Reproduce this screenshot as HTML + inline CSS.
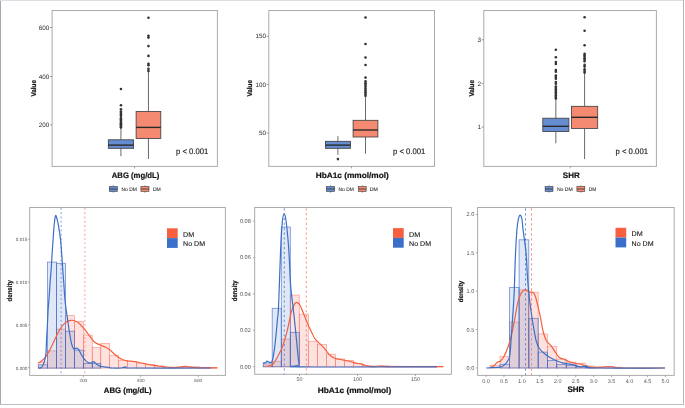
<!DOCTYPE html><html><head><meta charset="utf-8"><style>html,body{margin:0;padding:0;background:#fff;}svg{display:block;will-change:transform;}text{font-family:"Liberation Sans", sans-serif;text-rendering:geometricPrecision;}</style></head><body>
<svg width="685" height="408" viewBox="0 0 685 408">
<rect x="0" y="0" width="685" height="408" fill="#fff"/>
<rect x="52.1" y="10.5" width="165.3" height="155.9" fill="none" stroke="#ababab" stroke-width="1"/>
<line x1="49.9" y1="27.5" x2="52.1" y2="27.5" stroke="#8a8a8a" stroke-width="0.8"/>
<text x="49.3" y="29.7" font-size="6.3" text-anchor="end" font-weight="normal" fill="#2a2a2a">600</text>
<line x1="49.9" y1="76.5" x2="52.1" y2="76.5" stroke="#8a8a8a" stroke-width="0.8"/>
<text x="49.3" y="78.7" font-size="6.3" text-anchor="end" font-weight="normal" fill="#2a2a2a">400</text>
<line x1="49.9" y1="124.8" x2="52.1" y2="124.8" stroke="#8a8a8a" stroke-width="0.8"/>
<text x="49.3" y="127" font-size="6.3" text-anchor="end" font-weight="normal" fill="#2a2a2a">200</text>
<line x1="134.6" y1="166.4" x2="134.6" y2="168.4" stroke="#8a8a8a" stroke-width="0.8"/>
<text x="35.6" y="88.3" font-size="7" text-anchor="middle" font-weight="bold" fill="#111" stroke="#111" stroke-width="0.2" textLength="16.6" lengthAdjust="spacingAndGlyphs" transform="rotate(-90 35.6 88.3)">Value</text>
<line x1="120.95" y1="127.5" x2="120.95" y2="139.8" stroke="#444" stroke-width="0.8"/>
<line x1="120.95" y1="148.3" x2="120.95" y2="156.2" stroke="#444" stroke-width="0.8"/>
<rect x="108.3" y="139.8" width="25.3" height="8.5" fill="#668dd1" stroke="#3a3a3a" stroke-width="0.8"/>
<line x1="108.3" y1="145.1" x2="133.6" y2="145.1" stroke="#2a2a2a" stroke-width="1.4"/>
<circle cx="120.95" cy="89" r="1.3" fill="#333"/>
<circle cx="120.95" cy="105.2" r="1.3" fill="#333"/>
<circle cx="120.95" cy="109.2" r="1.3" fill="#333"/>
<circle cx="120.95" cy="111.5" r="1.3" fill="#333"/>
<circle cx="120.95" cy="112.8" r="1.3" fill="#333"/>
<circle cx="120.95" cy="114.4" r="1.3" fill="#333"/>
<circle cx="120.95" cy="116.1" r="1.3" fill="#333"/>
<circle cx="120.95" cy="118.4" r="1.3" fill="#333"/>
<circle cx="120.95" cy="119.6" r="1.3" fill="#333"/>
<circle cx="120.95" cy="120.8" r="1.3" fill="#333"/>
<circle cx="120.95" cy="122" r="1.3" fill="#333"/>
<circle cx="120.95" cy="123.2" r="1.3" fill="#333"/>
<circle cx="120.95" cy="124.4" r="1.3" fill="#333"/>
<circle cx="120.95" cy="125.6" r="1.3" fill="#333"/>
<circle cx="120.95" cy="126.8" r="1.3" fill="#333"/>
<circle cx="120.95" cy="127.4" r="1.3" fill="#333"/>
<line x1="148.45" y1="70" x2="148.45" y2="111.5" stroke="#444" stroke-width="0.8"/>
<line x1="148.45" y1="138.5" x2="148.45" y2="159" stroke="#444" stroke-width="0.8"/>
<rect x="136.1" y="111.5" width="24.7" height="27" fill="#f48a72" stroke="#3a3a3a" stroke-width="0.8"/>
<line x1="136.1" y1="127.4" x2="160.8" y2="127.4" stroke="#2a2a2a" stroke-width="1.4"/>
<circle cx="148.45" cy="17.7" r="1.3" fill="#333"/>
<circle cx="148.45" cy="35.8" r="1.3" fill="#333"/>
<circle cx="148.45" cy="37.6" r="1.3" fill="#333"/>
<circle cx="148.45" cy="46.1" r="1.3" fill="#333"/>
<circle cx="148.45" cy="55.9" r="1.3" fill="#333"/>
<circle cx="148.45" cy="63.7" r="1.3" fill="#333"/>
<circle cx="148.45" cy="65.2" r="1.3" fill="#333"/>
<circle cx="148.45" cy="68.8" r="1.3" fill="#333"/>
<circle cx="148.45" cy="70.9" r="1.3" fill="#333"/>
<text x="176" y="154.2" font-size="8" text-anchor="start" font-weight="normal" fill="#1a1a1a" stroke="#1a1a1a" stroke-width="0.15" textLength="32.3" lengthAdjust="spacingAndGlyphs">p &lt; 0.001</text>
<text x="111.8" y="178.2" font-size="8" text-anchor="start" font-weight="bold" fill="#111" stroke="#111" stroke-width="0.2" textLength="47.5" lengthAdjust="spacingAndGlyphs">ABG (mg/dL)</text>
<line x1="113.35" y1="185.2" x2="113.35" y2="192.8" stroke="#555" stroke-width="0.6"/>
<rect x="109.3" y="186.4" width="8.1" height="5.2" fill="#668dd1" stroke="#444" stroke-width="0.6"/>
<line x1="109.3" y1="189" x2="117.4" y2="189" stroke="#333" stroke-width="0.8"/>
<text x="121.5" y="191.2" font-size="5.2" text-anchor="start" font-weight="normal" fill="#333" stroke="#333" stroke-width="0.1" textLength="15.3" lengthAdjust="spacingAndGlyphs">No DM</text>
<line x1="144.95" y1="185.2" x2="144.95" y2="192.8" stroke="#555" stroke-width="0.6"/>
<rect x="140.9" y="186.4" width="8.1" height="5.2" fill="#f48a72" stroke="#444" stroke-width="0.6"/>
<line x1="140.9" y1="189" x2="149" y2="189" stroke="#333" stroke-width="0.8"/>
<text x="152.9" y="191.2" font-size="5.2" text-anchor="start" font-weight="normal" fill="#333" stroke="#333" stroke-width="0.1" textLength="7.9" lengthAdjust="spacingAndGlyphs">DM</text>
<rect x="268.8" y="10.5" width="165.7" height="155.9" fill="none" stroke="#ababab" stroke-width="1"/>
<line x1="266.6" y1="36.2" x2="268.8" y2="36.2" stroke="#8a8a8a" stroke-width="0.8"/>
<text x="266" y="38.4" font-size="6.3" text-anchor="end" font-weight="normal" fill="#2a2a2a">150</text>
<line x1="266.6" y1="84.4" x2="268.8" y2="84.4" stroke="#8a8a8a" stroke-width="0.8"/>
<text x="266" y="86.6" font-size="6.3" text-anchor="end" font-weight="normal" fill="#2a2a2a">100</text>
<line x1="266.6" y1="133" x2="268.8" y2="133" stroke="#8a8a8a" stroke-width="0.8"/>
<text x="266" y="135.2" font-size="6.3" text-anchor="end" font-weight="normal" fill="#2a2a2a">50</text>
<line x1="351.5" y1="166.4" x2="351.5" y2="168.4" stroke="#8a8a8a" stroke-width="0.8"/>
<text x="252.4" y="88.3" font-size="7" text-anchor="middle" font-weight="bold" fill="#111" stroke="#111" stroke-width="0.2" textLength="16.6" lengthAdjust="spacingAndGlyphs" transform="rotate(-90 252.4 88.3)">Value</text>
<line x1="337.9" y1="136.2" x2="337.9" y2="141.3" stroke="#444" stroke-width="0.8"/>
<line x1="337.9" y1="148.3" x2="337.9" y2="154.8" stroke="#444" stroke-width="0.8"/>
<rect x="325.4" y="141.3" width="25" height="7" fill="#668dd1" stroke="#3a3a3a" stroke-width="0.8"/>
<line x1="325.4" y1="145.1" x2="350.4" y2="145.1" stroke="#2a2a2a" stroke-width="1.4"/>
<circle cx="337.9" cy="159.1" r="1.3" fill="#333"/>
<line x1="365.5" y1="96" x2="365.5" y2="120.3" stroke="#444" stroke-width="0.8"/>
<line x1="365.5" y1="137" x2="365.5" y2="153.7" stroke="#444" stroke-width="0.8"/>
<rect x="353.1" y="120.3" width="24.8" height="16.7" fill="#f48a72" stroke="#3a3a3a" stroke-width="0.8"/>
<line x1="353.1" y1="130" x2="377.9" y2="130" stroke="#2a2a2a" stroke-width="1.4"/>
<circle cx="365.5" cy="17.5" r="1.3" fill="#333"/>
<circle cx="365.5" cy="44" r="1.3" fill="#333"/>
<circle cx="365.5" cy="57.5" r="1.3" fill="#333"/>
<circle cx="365.5" cy="65" r="1.3" fill="#333"/>
<circle cx="365.5" cy="77.6" r="1.3" fill="#333"/>
<circle cx="365.5" cy="81.4" r="1.3" fill="#333"/>
<circle cx="365.5" cy="83.2" r="1.3" fill="#333"/>
<circle cx="365.5" cy="85" r="1.3" fill="#333"/>
<circle cx="365.5" cy="86.8" r="1.3" fill="#333"/>
<circle cx="365.5" cy="88.6" r="1.3" fill="#333"/>
<circle cx="365.5" cy="90.4" r="1.3" fill="#333"/>
<circle cx="365.5" cy="92.2" r="1.3" fill="#333"/>
<circle cx="365.5" cy="94" r="1.3" fill="#333"/>
<circle cx="365.5" cy="95.8" r="1.3" fill="#333"/>
<text x="393" y="153.8" font-size="8" text-anchor="start" font-weight="normal" fill="#1a1a1a" stroke="#1a1a1a" stroke-width="0.15" textLength="32.4" lengthAdjust="spacingAndGlyphs">p &lt; 0.001</text>
<text x="315.7" y="178" font-size="8" text-anchor="start" font-weight="bold" fill="#111" stroke="#111" stroke-width="0.2" textLength="73.1" lengthAdjust="spacingAndGlyphs">HbA1c (mmol/mol)</text>
<line x1="330.55" y1="185.2" x2="330.55" y2="192.8" stroke="#555" stroke-width="0.6"/>
<rect x="326.4" y="186.4" width="8.3" height="5.2" fill="#668dd1" stroke="#444" stroke-width="0.6"/>
<line x1="326.4" y1="189" x2="334.7" y2="189" stroke="#333" stroke-width="0.8"/>
<text x="338.6" y="191.2" font-size="5.2" text-anchor="start" font-weight="normal" fill="#333" stroke="#333" stroke-width="0.1" textLength="15.2" lengthAdjust="spacingAndGlyphs">No DM</text>
<line x1="362.3" y1="185.2" x2="362.3" y2="192.8" stroke="#555" stroke-width="0.6"/>
<rect x="358.4" y="186.4" width="7.8" height="5.2" fill="#f48a72" stroke="#444" stroke-width="0.6"/>
<line x1="358.4" y1="189" x2="366.2" y2="189" stroke="#333" stroke-width="0.8"/>
<text x="369.8" y="191.2" font-size="5.2" text-anchor="start" font-weight="normal" fill="#333" stroke="#333" stroke-width="0.1" textLength="8.1" lengthAdjust="spacingAndGlyphs">DM</text>
<rect x="483.8" y="10.5" width="172.6" height="155.9" fill="none" stroke="#ababab" stroke-width="1"/>
<line x1="481.6" y1="39.8" x2="483.8" y2="39.8" stroke="#8a8a8a" stroke-width="0.8"/>
<text x="481" y="42" font-size="6.3" text-anchor="end" font-weight="normal" fill="#2a2a2a">3</text>
<line x1="481.6" y1="83.4" x2="483.8" y2="83.4" stroke="#8a8a8a" stroke-width="0.8"/>
<text x="481" y="85.6" font-size="6.3" text-anchor="end" font-weight="normal" fill="#2a2a2a">2</text>
<line x1="481.6" y1="127.1" x2="483.8" y2="127.1" stroke="#8a8a8a" stroke-width="0.8"/>
<text x="481" y="129.3" font-size="6.3" text-anchor="end" font-weight="normal" fill="#2a2a2a">1</text>
<line x1="570.3" y1="166.4" x2="570.3" y2="168.4" stroke="#8a8a8a" stroke-width="0.8"/>
<text x="474.4" y="88.3" font-size="7" text-anchor="middle" font-weight="bold" fill="#111" stroke="#111" stroke-width="0.2" textLength="16.6" lengthAdjust="spacingAndGlyphs" transform="rotate(-90 474.4 88.3)">Value</text>
<line x1="555.85" y1="98.8" x2="555.85" y2="118.2" stroke="#444" stroke-width="0.8"/>
<line x1="555.85" y1="131.6" x2="555.85" y2="143.3" stroke="#444" stroke-width="0.8"/>
<rect x="542.8" y="118.2" width="26.1" height="13.4" fill="#668dd1" stroke="#3a3a3a" stroke-width="0.8"/>
<line x1="542.8" y1="126.3" x2="568.9" y2="126.3" stroke="#2a2a2a" stroke-width="1.4"/>
<circle cx="555.85" cy="49.8" r="1.3" fill="#333"/>
<circle cx="555.85" cy="57.2" r="1.3" fill="#333"/>
<circle cx="555.85" cy="62" r="1.3" fill="#333"/>
<circle cx="555.85" cy="64" r="1.3" fill="#333"/>
<circle cx="555.85" cy="70" r="1.3" fill="#333"/>
<circle cx="555.85" cy="71.8" r="1.3" fill="#333"/>
<circle cx="555.85" cy="75.5" r="1.3" fill="#333"/>
<circle cx="555.85" cy="77" r="1.3" fill="#333"/>
<circle cx="555.85" cy="78.8" r="1.3" fill="#333"/>
<circle cx="555.85" cy="82" r="1.3" fill="#333"/>
<circle cx="555.85" cy="83.8" r="1.3" fill="#333"/>
<circle cx="555.85" cy="86.5" r="1.3" fill="#333"/>
<circle cx="555.85" cy="88" r="1.3" fill="#333"/>
<circle cx="555.85" cy="89.5" r="1.3" fill="#333"/>
<circle cx="555.85" cy="91" r="1.3" fill="#333"/>
<circle cx="555.85" cy="92.5" r="1.3" fill="#333"/>
<circle cx="555.85" cy="94" r="1.3" fill="#333"/>
<circle cx="555.85" cy="95.5" r="1.3" fill="#333"/>
<circle cx="555.85" cy="97" r="1.3" fill="#333"/>
<circle cx="555.85" cy="98.4" r="1.3" fill="#333"/>
<line x1="584.6" y1="73" x2="584.6" y2="106.3" stroke="#444" stroke-width="0.8"/>
<line x1="584.6" y1="128.4" x2="584.6" y2="159" stroke="#444" stroke-width="0.8"/>
<rect x="571.5" y="106.3" width="26.2" height="22.1" fill="#f48a72" stroke="#3a3a3a" stroke-width="0.8"/>
<line x1="571.5" y1="117.3" x2="597.7" y2="117.3" stroke="#2a2a2a" stroke-width="1.4"/>
<circle cx="584.6" cy="17.3" r="1.3" fill="#333"/>
<circle cx="584.6" cy="30.8" r="1.3" fill="#333"/>
<circle cx="584.6" cy="45.2" r="1.3" fill="#333"/>
<circle cx="584.6" cy="53.7" r="1.3" fill="#333"/>
<circle cx="584.6" cy="55.2" r="1.3" fill="#333"/>
<circle cx="584.6" cy="56.7" r="1.3" fill="#333"/>
<circle cx="584.6" cy="58.2" r="1.3" fill="#333"/>
<circle cx="584.6" cy="59.8" r="1.3" fill="#333"/>
<circle cx="584.6" cy="61.3" r="1.3" fill="#333"/>
<circle cx="584.6" cy="64.9" r="1.3" fill="#333"/>
<circle cx="584.6" cy="66.6" r="1.3" fill="#333"/>
<circle cx="584.6" cy="69.2" r="1.3" fill="#333"/>
<circle cx="584.6" cy="70.9" r="1.3" fill="#333"/>
<circle cx="584.6" cy="72.6" r="1.3" fill="#333"/>
<text x="615.5" y="153.8" font-size="8" text-anchor="start" font-weight="normal" fill="#1a1a1a" stroke="#1a1a1a" stroke-width="0.15" textLength="32.5" lengthAdjust="spacingAndGlyphs">p &lt; 0.001</text>
<text x="562.8" y="178.1" font-size="8" text-anchor="start" font-weight="bold" fill="#111" stroke="#111" stroke-width="0.2" textLength="16.9" lengthAdjust="spacingAndGlyphs">SHR</text>
<line x1="549.05" y1="185.2" x2="549.05" y2="192.8" stroke="#555" stroke-width="0.6"/>
<rect x="545.1" y="186.4" width="7.9" height="5.2" fill="#668dd1" stroke="#444" stroke-width="0.6"/>
<line x1="545.1" y1="189" x2="553" y2="189" stroke="#333" stroke-width="0.8"/>
<text x="556.9" y="191.2" font-size="5.2" text-anchor="start" font-weight="normal" fill="#333" stroke="#333" stroke-width="0.1" textLength="15.8" lengthAdjust="spacingAndGlyphs">No DM</text>
<line x1="580.85" y1="185.2" x2="580.85" y2="192.8" stroke="#555" stroke-width="0.6"/>
<rect x="576.9" y="186.4" width="7.9" height="5.2" fill="#f48a72" stroke="#444" stroke-width="0.6"/>
<line x1="576.9" y1="189" x2="584.8" y2="189" stroke="#333" stroke-width="0.8"/>
<text x="588.7" y="191.2" font-size="5.2" text-anchor="start" font-weight="normal" fill="#333" stroke="#333" stroke-width="0.1" textLength="7.7" lengthAdjust="spacingAndGlyphs">DM</text>
<rect x="38.3" y="362.1" width="9.1" height="6" fill="rgba(250,110,95,0.2)" stroke="rgba(242,110,90,0.55)" stroke-width="0.8"/>
<rect x="47.4" y="350.9" width="9.2" height="17.2" fill="rgba(250,110,95,0.2)" stroke="rgba(242,110,90,0.55)" stroke-width="0.8"/>
<rect x="56.6" y="329.1" width="8.9" height="39" fill="rgba(250,110,95,0.2)" stroke="rgba(242,110,90,0.55)" stroke-width="0.8"/>
<rect x="65.5" y="315.4" width="8.9" height="52.7" fill="rgba(250,110,95,0.2)" stroke="rgba(242,110,90,0.55)" stroke-width="0.8"/>
<rect x="74.4" y="321.4" width="9" height="46.7" fill="rgba(250,110,95,0.2)" stroke="rgba(242,110,90,0.55)" stroke-width="0.8"/>
<rect x="83.4" y="335.1" width="8.9" height="33" fill="rgba(250,110,95,0.2)" stroke="rgba(242,110,90,0.55)" stroke-width="0.8"/>
<rect x="92.3" y="347.5" width="8.4" height="20.6" fill="rgba(250,110,95,0.2)" stroke="rgba(242,110,90,0.55)" stroke-width="0.8"/>
<rect x="100.7" y="343.4" width="8.9" height="24.7" fill="rgba(250,110,95,0.2)" stroke="rgba(242,110,90,0.55)" stroke-width="0.8"/>
<rect x="109.6" y="355.2" width="8.9" height="12.9" fill="rgba(250,110,95,0.2)" stroke="rgba(242,110,90,0.55)" stroke-width="0.8"/>
<rect x="118.5" y="360.4" width="8.9" height="7.7" fill="rgba(250,110,95,0.2)" stroke="rgba(242,110,90,0.55)" stroke-width="0.8"/>
<rect x="127.4" y="361.4" width="9.1" height="6.7" fill="rgba(250,110,95,0.2)" stroke="rgba(242,110,90,0.55)" stroke-width="0.8"/>
<rect x="136.5" y="363.5" width="8.9" height="4.6" fill="rgba(250,110,95,0.2)" stroke="rgba(242,110,90,0.55)" stroke-width="0.8"/>
<rect x="145.4" y="364.5" width="9" height="3.6" fill="rgba(250,110,95,0.2)" stroke="rgba(242,110,90,0.55)" stroke-width="0.8"/>
<rect x="154.4" y="366" width="9" height="2.1" fill="rgba(250,110,95,0.2)" stroke="rgba(242,110,90,0.55)" stroke-width="0.8"/>
<rect x="163.4" y="367" width="9" height="1.1" fill="rgba(250,110,95,0.2)" stroke="rgba(242,110,90,0.55)" stroke-width="0.8"/>
<rect x="172.4" y="367.2" width="9" height="0.9" fill="rgba(250,110,95,0.2)" stroke="rgba(242,110,90,0.55)" stroke-width="0.8"/>
<rect x="181.4" y="367.3" width="9" height="0.8" fill="rgba(250,110,95,0.2)" stroke="rgba(242,110,90,0.55)" stroke-width="0.8"/>
<rect x="190.4" y="366.8" width="9" height="1.3" fill="rgba(250,110,95,0.2)" stroke="rgba(242,110,90,0.55)" stroke-width="0.8"/>
<rect x="199.4" y="367.3" width="9" height="0.8" fill="rgba(250,110,95,0.2)" stroke="rgba(242,110,90,0.55)" stroke-width="0.8"/>
<rect x="208.4" y="367.4" width="9" height="0.7" fill="rgba(250,110,95,0.2)" stroke="rgba(242,110,90,0.55)" stroke-width="0.8"/>
<rect x="38.3" y="364.8" width="9.1" height="3.3" fill="rgba(70,110,200,0.17)" stroke="rgba(60,105,195,0.72)" stroke-width="0.8"/>
<rect x="47.4" y="262.1" width="9.2" height="106" fill="rgba(70,110,200,0.17)" stroke="rgba(60,105,195,0.72)" stroke-width="0.8"/>
<rect x="56.6" y="263.3" width="8.9" height="104.8" fill="rgba(70,110,200,0.17)" stroke="rgba(60,105,195,0.72)" stroke-width="0.8"/>
<rect x="65.5" y="331.2" width="8.9" height="36.9" fill="rgba(70,110,200,0.17)" stroke="rgba(60,105,195,0.72)" stroke-width="0.8"/>
<rect x="74.4" y="350.2" width="9" height="17.9" fill="rgba(70,110,200,0.17)" stroke="rgba(60,105,195,0.72)" stroke-width="0.8"/>
<rect x="83.4" y="363.3" width="8.9" height="4.8" fill="rgba(70,110,200,0.17)" stroke="rgba(60,105,195,0.72)" stroke-width="0.8"/>
<rect x="92.3" y="363.3" width="8.4" height="4.8" fill="rgba(70,110,200,0.17)" stroke="rgba(60,105,195,0.72)" stroke-width="0.8"/>
<line x1="61.1" y1="207.5" x2="61.1" y2="375.4" stroke="rgba(70,115,205,0.85)" stroke-width="0.9" stroke-dasharray="1.7 2.6" stroke-dashoffset="3.75"/>
<line x1="84.9" y1="207.5" x2="84.9" y2="375.4" stroke="rgba(245,105,85,0.8)" stroke-width="0.9" stroke-dasharray="1.7 2.6" stroke-dashoffset="3.75"/>
<path d="M38.4,362.5 C38.67,362.45 39,362.87 40,362.2 C41,361.53 42.93,360.22 44.4,358.5 C45.87,356.78 47.33,354.47 48.8,351.9 C50.27,349.33 51.73,346.17 53.2,343.1 C54.67,340.03 56.12,336.32 57.6,333.5 C59.08,330.68 60.62,328.15 62.1,326.2 C63.58,324.25 65.03,322.78 66.5,321.8 C67.97,320.82 69.43,320.43 70.9,320.3 C72.37,320.17 73.95,320.52 75.3,321 C76.65,321.48 77.8,322.23 79,323.2 C80.2,324.17 81.27,325.38 82.5,326.8 C83.73,328.22 84.88,329.73 86.4,331.7 C87.92,333.67 90.17,336.82 91.6,338.6 C93.03,340.38 93.58,341.35 95,342.4 C96.42,343.45 98.38,344.13 100.1,344.9 C101.82,345.67 103.75,346.22 105.3,347 C106.85,347.78 108.03,348.57 109.4,349.6 C110.77,350.63 112.13,352 113.5,353.2 C114.87,354.4 116.22,355.78 117.6,356.8 C118.98,357.82 120.42,358.67 121.8,359.3 C123.18,359.93 124.37,360.28 125.9,360.6 C127.43,360.92 129.28,360.98 131,361.2 C132.72,361.42 134.48,361.6 136.2,361.9 C137.92,362.2 139.58,362.65 141.3,363 C143.02,363.35 144.62,363.63 146.5,364 C148.38,364.37 150.55,364.87 152.6,365.2 C154.65,365.53 156.73,365.72 158.8,366 C160.87,366.28 162.8,366.63 165,366.9 C167.2,367.17 169.83,367.53 172,367.6 C174.17,367.67 175.83,367.5 178,367.3 C180.17,367.1 182.67,366.4 185,366.4 C187.33,366.4 189.5,367.07 192,367.3 C194.5,367.53 195.83,367.7 200,367.8 C204.17,367.9 214.17,367.88 217,367.9" fill="none" stroke="#f4603f" stroke-width="1.2" stroke-linejoin="round"/>
<path d="M38.4,368 C38.92,367.9 40.5,368.48 41.5,367.4 C42.5,366.32 43.67,363.73 44.4,361.5 C45.13,359.27 45.53,357.68 45.9,354 C46.27,350.32 46.35,344.28 46.6,339.4 C46.85,334.52 47.15,329.6 47.4,324.7 C47.65,319.8 47.85,314.12 48.1,310 C48.35,305.88 48.53,305 48.9,300 C49.27,295 49.92,285.2 50.3,280 C50.68,274.8 50.9,273.13 51.2,268.8 C51.5,264.47 51.78,258.9 52.1,254 C52.42,249.1 52.75,244.28 53.1,239.4 C53.45,234.52 53.78,228.67 54.2,224.7 C54.62,220.73 55.13,216.55 55.6,215.6 C56.07,214.65 56.55,217.48 57,219 C57.45,220.52 57.72,221.3 58.3,224.7 C58.88,228.1 59.93,234.52 60.5,239.4 C61.07,244.28 61.33,249.1 61.7,254 C62.07,258.9 62.37,264.13 62.7,268.8 C63.03,273.47 63.32,276.8 63.7,282 C64.08,287.2 64.58,295.33 65,300 C65.42,304.67 65.72,306.37 66.2,310 C66.68,313.63 67.37,318.13 67.9,321.8 C68.43,325.47 68.78,328.33 69.4,332 C70.02,335.67 70.87,340.97 71.6,343.8 C72.33,346.63 73.07,348.27 73.8,349 C74.53,349.73 75.27,348.2 76,348.2 C76.73,348.2 77.53,348.37 78.2,349 C78.87,349.63 79.45,351 80,352 C80.55,353 80.72,353.73 81.5,355 C82.28,356.27 83.62,358.35 84.7,359.6 C85.78,360.85 86.95,361.93 88,362.5 C89.05,363.07 90.08,363.15 91,363 C91.92,362.85 92.5,361.35 93.5,361.6 C94.5,361.85 95.8,363.7 97,364.5 C98.2,365.3 99.53,366.02 100.7,366.4 C101.87,366.78 102.78,366.63 104,366.8 C105.22,366.97 106.67,367.2 108,367.4 C109.33,367.6 109.83,367.9 112,368 C114.17,368.1 118.7,368.17 121,368 C123.3,367.83 124.3,367 125.8,367 C127.3,367 115.85,367.83 130,368 C144.15,368.17 197.25,368 210.7,368" fill="none" stroke="#3b6fc5" stroke-width="1.2" stroke-linejoin="round"/>
<rect x="29.7" y="207.5" width="195.7" height="167.9" fill="none" stroke="#ababab" stroke-width="1"/>
<line x1="27.9" y1="367.7" x2="29.7" y2="367.7" stroke="#8a8a8a" stroke-width="0.7"/>
<text x="27.3" y="369.6" font-size="4.6" text-anchor="end" font-weight="normal" fill="#555">0.000</text>
<line x1="27.9" y1="324.9" x2="29.7" y2="324.9" stroke="#8a8a8a" stroke-width="0.7"/>
<text x="27.3" y="326.8" font-size="4.6" text-anchor="end" font-weight="normal" fill="#555">0.005</text>
<line x1="27.9" y1="282.1" x2="29.7" y2="282.1" stroke="#8a8a8a" stroke-width="0.7"/>
<text x="27.3" y="284" font-size="4.6" text-anchor="end" font-weight="normal" fill="#555">0.010</text>
<line x1="27.9" y1="239.3" x2="29.7" y2="239.3" stroke="#8a8a8a" stroke-width="0.7"/>
<text x="27.3" y="241.2" font-size="4.6" text-anchor="end" font-weight="normal" fill="#555">0.015</text>
<line x1="83.3" y1="375.4" x2="83.3" y2="377.2" stroke="#8a8a8a" stroke-width="0.7"/>
<text x="83.3" y="382" font-size="4.7" text-anchor="middle" font-weight="normal" fill="#555">200</text>
<line x1="140.7" y1="375.4" x2="140.7" y2="377.2" stroke="#8a8a8a" stroke-width="0.7"/>
<text x="140.7" y="382" font-size="4.7" text-anchor="middle" font-weight="normal" fill="#555">400</text>
<line x1="198.2" y1="375.4" x2="198.2" y2="377.2" stroke="#8a8a8a" stroke-width="0.7"/>
<text x="198.2" y="382" font-size="4.7" text-anchor="middle" font-weight="normal" fill="#555">600</text>
<text x="12.5" y="290.8" font-size="7" text-anchor="middle" font-weight="bold" fill="#111" stroke="#111" stroke-width="0.2" textLength="21.4" lengthAdjust="spacingAndGlyphs" transform="rotate(-90 12.5 290.8)">density</text>
<text x="103.8" y="392.6" font-size="8" text-anchor="start" font-weight="bold" fill="#111" stroke="#111" stroke-width="0.2" textLength="47.7" lengthAdjust="spacingAndGlyphs">ABG (mg/dL)</text>
<rect x="167" y="228.3" width="10.7" height="9.8" fill="#f75f3f" stroke="none" stroke-width="1"/>
<rect x="167" y="238.1" width="10.7" height="9.8" fill="#3a70c9" stroke="none" stroke-width="1"/>
<text x="183.1" y="236.7" font-size="7" text-anchor="start" font-weight="normal" fill="#1a1a1a" stroke="#1a1a1a" stroke-width="0.12" textLength="11.2" lengthAdjust="spacingAndGlyphs">DM</text>
<text x="183.1" y="246.4" font-size="7" text-anchor="start" font-weight="normal" fill="#1a1a1a" stroke="#1a1a1a" stroke-width="0.12" textLength="22" lengthAdjust="spacingAndGlyphs">No DM</text>
<rect x="263.2" y="364.8" width="9" height="2" fill="rgba(250,110,95,0.2)" stroke="rgba(242,110,90,0.55)" stroke-width="0.8"/>
<rect x="272.2" y="361.2" width="9.1" height="5.6" fill="rgba(250,110,95,0.2)" stroke="rgba(242,110,90,0.55)" stroke-width="0.8"/>
<rect x="281.3" y="339" width="9" height="27.8" fill="rgba(250,110,95,0.2)" stroke="rgba(242,110,90,0.55)" stroke-width="0.8"/>
<rect x="290.3" y="295.1" width="9" height="71.7" fill="rgba(250,110,95,0.2)" stroke="rgba(242,110,90,0.55)" stroke-width="0.8"/>
<rect x="299.3" y="314.2" width="9.1" height="52.6" fill="rgba(250,110,95,0.2)" stroke="rgba(242,110,90,0.55)" stroke-width="0.8"/>
<rect x="308.4" y="341.3" width="9" height="25.5" fill="rgba(250,110,95,0.2)" stroke="rgba(242,110,90,0.55)" stroke-width="0.8"/>
<rect x="317.4" y="344.5" width="9.1" height="22.3" fill="rgba(250,110,95,0.2)" stroke="rgba(242,110,90,0.55)" stroke-width="0.8"/>
<rect x="326.5" y="354.2" width="8.9" height="12.6" fill="rgba(250,110,95,0.2)" stroke="rgba(242,110,90,0.55)" stroke-width="0.8"/>
<rect x="335.4" y="358.9" width="9.2" height="7.9" fill="rgba(250,110,95,0.2)" stroke="rgba(242,110,90,0.55)" stroke-width="0.8"/>
<rect x="344.6" y="360.5" width="8.9" height="6.3" fill="rgba(250,110,95,0.2)" stroke="rgba(242,110,90,0.55)" stroke-width="0.8"/>
<rect x="353.5" y="363.4" width="8.9" height="3.4" fill="rgba(250,110,95,0.2)" stroke="rgba(242,110,90,0.55)" stroke-width="0.8"/>
<rect x="362.4" y="365.6" width="9" height="1.2" fill="rgba(250,110,95,0.2)" stroke="rgba(242,110,90,0.55)" stroke-width="0.8"/>
<rect x="371.4" y="366" width="9" height="0.8" fill="rgba(250,110,95,0.2)" stroke="rgba(242,110,90,0.55)" stroke-width="0.8"/>
<rect x="380.4" y="365.9" width="9" height="0.9" fill="rgba(250,110,95,0.2)" stroke="rgba(242,110,90,0.55)" stroke-width="0.8"/>
<rect x="389.4" y="366.2" width="9" height="0.6" fill="rgba(250,110,95,0.2)" stroke="rgba(242,110,90,0.55)" stroke-width="0.8"/>
<rect x="398.4" y="366.3" width="9" height="0.5" fill="rgba(250,110,95,0.2)" stroke="rgba(242,110,90,0.55)" stroke-width="0.8"/>
<rect x="407.4" y="366.3" width="9" height="0.5" fill="rgba(250,110,95,0.2)" stroke="rgba(242,110,90,0.55)" stroke-width="0.8"/>
<rect x="416.4" y="366.3" width="9" height="0.5" fill="rgba(250,110,95,0.2)" stroke="rgba(242,110,90,0.55)" stroke-width="0.8"/>
<rect x="425.4" y="366.3" width="9" height="0.5" fill="rgba(250,110,95,0.2)" stroke="rgba(242,110,90,0.55)" stroke-width="0.8"/>
<rect x="434.4" y="366.3" width="9" height="0.5" fill="rgba(250,110,95,0.2)" stroke="rgba(242,110,90,0.55)" stroke-width="0.8"/>
<rect x="263.2" y="363" width="9" height="3.8" fill="rgba(70,110,200,0.17)" stroke="rgba(60,105,195,0.72)" stroke-width="0.8"/>
<rect x="272.2" y="308.3" width="9.1" height="58.5" fill="rgba(70,110,200,0.17)" stroke="rgba(60,105,195,0.72)" stroke-width="0.8"/>
<rect x="281.3" y="227" width="9" height="139.8" fill="rgba(70,110,200,0.17)" stroke="rgba(60,105,195,0.72)" stroke-width="0.8"/>
<rect x="290.3" y="332.3" width="9" height="34.5" fill="rgba(70,110,200,0.17)" stroke="rgba(60,105,195,0.72)" stroke-width="0.8"/>
<line x1="284.3" y1="207.5" x2="284.3" y2="374.3" stroke="rgba(70,115,205,0.85)" stroke-width="0.9" stroke-dasharray="2.2 2.65" stroke-dashoffset="4.15"/>
<line x1="306.3" y1="207.5" x2="306.3" y2="374.3" stroke="rgba(245,105,85,0.8)" stroke-width="0.9" stroke-dasharray="2.2 2.65" stroke-dashoffset="4.15"/>
<path d="M266.4,366.4 C267,366.3 268.98,366.12 270,365.8 C271.02,365.48 271.67,365.25 272.5,364.5 C273.33,363.75 274.17,362.55 275,361.3 C275.83,360.05 276.67,358.55 277.5,357 C278.33,355.45 279.08,353.93 280,352 C280.92,350.07 281.8,348.93 283,345.4 C284.2,341.87 285.82,336.35 287.2,330.8 C288.58,325.25 290.08,316.53 291.3,312.1 C292.52,307.67 293.63,305.83 294.5,304.2 C295.37,302.57 295.63,302.2 296.5,302.3 C297.37,302.4 298.48,302.82 299.7,304.8 C300.92,306.78 302.42,310.9 303.8,314.2 C305.18,317.5 306.6,321.38 308,324.6 C309.4,327.82 311.03,331.13 312.2,333.5 C313.37,335.87 313.68,337.08 315,338.8 C316.32,340.52 318.4,342.05 320.1,343.8 C321.8,345.55 323.72,347.57 325.2,349.3 C326.68,351.03 327.52,352.75 329,354.2 C330.48,355.65 332.18,357.12 334.1,358 C336.02,358.88 338.15,359 340.5,359.5 C342.85,360 345.65,360.4 348.2,361 C350.75,361.6 353.47,362.53 355.8,363.1 C358.13,363.67 360.07,363.87 362.2,364.4 C364.33,364.93 366.47,365.93 368.6,366.3 C370.73,366.67 372.88,366.65 375,366.6 C377.12,366.55 378.8,366 381.3,366 C383.8,366 379.72,366.48 390,366.6 C400.28,366.72 434.17,366.68 443,366.7" fill="none" stroke="#f4603f" stroke-width="1.2" stroke-linejoin="round"/>
<path d="M263.2,363.1 C263.58,363.02 264.87,362.92 265.5,362.6 C266.13,362.28 266.5,361.33 267,361.2 C267.5,361.07 267.92,361.57 268.5,361.8 C269.08,362.03 269.92,362.65 270.5,362.6 C271.08,362.55 271.55,362.43 272,361.5 C272.45,360.57 272.77,359.25 273.2,357 C273.63,354.75 274.13,351.67 274.6,348 C275.07,344.33 275.53,339.67 276,335 C276.47,330.33 276.97,324.87 277.4,320 C277.83,315.13 278.07,317.47 278.6,305.8 C279.13,294.13 279.98,263.97 280.6,250 C281.22,236.03 281.69,228.02 282.3,222 C282.91,215.98 283.6,213.9 284.25,213.9 C284.9,213.9 285.44,215.98 286.2,222 C286.96,228.02 288.07,239.5 288.8,250 C289.53,260.5 289.92,275.7 290.6,285 C291.28,294.3 292.13,298.85 292.9,305.8 C293.67,312.75 294.48,319.75 295.2,326.7 C295.92,333.65 296.55,341.28 297.2,347.5 C297.85,353.72 298.43,360.78 299.1,364 C299.77,367.22 278.22,366.33 301.2,366.8 C324.18,367.27 414.37,366.8 437,366.8" fill="none" stroke="#3b6fc5" stroke-width="1.2" stroke-linejoin="round"/>
<rect x="254.7" y="207.5" width="196.7" height="166.8" fill="none" stroke="#ababab" stroke-width="1"/>
<line x1="252.9" y1="366.6" x2="254.7" y2="366.6" stroke="#8a8a8a" stroke-width="0.7"/>
<text x="250.8" y="368.5" font-size="5.6" text-anchor="end" font-weight="normal" fill="#555">0.00</text>
<line x1="252.9" y1="330.2" x2="254.7" y2="330.2" stroke="#8a8a8a" stroke-width="0.7"/>
<text x="250.8" y="332.1" font-size="5.6" text-anchor="end" font-weight="normal" fill="#555">0.02</text>
<line x1="252.9" y1="293.8" x2="254.7" y2="293.8" stroke="#8a8a8a" stroke-width="0.7"/>
<text x="250.8" y="295.7" font-size="5.6" text-anchor="end" font-weight="normal" fill="#555">0.04</text>
<line x1="252.9" y1="257.5" x2="254.7" y2="257.5" stroke="#8a8a8a" stroke-width="0.7"/>
<text x="250.8" y="259.4" font-size="5.6" text-anchor="end" font-weight="normal" fill="#555">0.06</text>
<line x1="252.9" y1="221.1" x2="254.7" y2="221.1" stroke="#8a8a8a" stroke-width="0.7"/>
<text x="250.8" y="223" font-size="5.6" text-anchor="end" font-weight="normal" fill="#555">0.08</text>
<line x1="299.5" y1="374.3" x2="299.5" y2="376.1" stroke="#8a8a8a" stroke-width="0.7"/>
<text x="299.5" y="380.6" font-size="5.4" text-anchor="middle" font-weight="normal" fill="#555">50</text>
<line x1="357.5" y1="374.3" x2="357.5" y2="376.1" stroke="#8a8a8a" stroke-width="0.7"/>
<text x="357.5" y="380.6" font-size="5.4" text-anchor="middle" font-weight="normal" fill="#555">100</text>
<line x1="415.4" y1="374.3" x2="415.4" y2="376.1" stroke="#8a8a8a" stroke-width="0.7"/>
<text x="415.4" y="380.6" font-size="5.4" text-anchor="middle" font-weight="normal" fill="#555">150</text>
<text x="237.4" y="290.8" font-size="7" text-anchor="middle" font-weight="bold" fill="#111" stroke="#111" stroke-width="0.2" textLength="20.8" lengthAdjust="spacingAndGlyphs" transform="rotate(-90 237.4 290.8)">density</text>
<text x="317.8" y="392.5" font-size="8" text-anchor="start" font-weight="bold" fill="#111" stroke="#111" stroke-width="0.2" textLength="73.4" lengthAdjust="spacingAndGlyphs">HbA1c (mmol/mol)</text>
<rect x="393" y="228.1" width="10.7" height="9.8" fill="#f75f3f" stroke="none" stroke-width="1"/>
<rect x="393" y="237.9" width="10.7" height="9.8" fill="#3a70c9" stroke="none" stroke-width="1"/>
<text x="409.1" y="236.5" font-size="7" text-anchor="start" font-weight="normal" fill="#1a1a1a" stroke="#1a1a1a" stroke-width="0.12" textLength="11.2" lengthAdjust="spacingAndGlyphs">DM</text>
<text x="409.1" y="246.2" font-size="7" text-anchor="start" font-weight="normal" fill="#1a1a1a" stroke="#1a1a1a" stroke-width="0.12" textLength="22" lengthAdjust="spacingAndGlyphs">No DM</text>
<rect x="490.2" y="365.2" width="9.8" height="2.8" fill="rgba(250,110,95,0.2)" stroke="rgba(242,110,90,0.55)" stroke-width="0.8"/>
<rect x="500" y="356.3" width="9.6" height="11.7" fill="rgba(250,110,95,0.2)" stroke="rgba(242,110,90,0.55)" stroke-width="0.8"/>
<rect x="509.6" y="322" width="9.5" height="46" fill="rgba(250,110,95,0.2)" stroke="rgba(242,110,90,0.55)" stroke-width="0.8"/>
<rect x="519.1" y="289.8" width="9.7" height="78.2" fill="rgba(250,110,95,0.2)" stroke="rgba(242,110,90,0.55)" stroke-width="0.8"/>
<rect x="528.8" y="292.2" width="9.4" height="75.8" fill="rgba(250,110,95,0.2)" stroke="rgba(242,110,90,0.55)" stroke-width="0.8"/>
<rect x="538.2" y="333.9" width="9.2" height="34.1" fill="rgba(250,110,95,0.2)" stroke="rgba(242,110,90,0.55)" stroke-width="0.8"/>
<rect x="547.4" y="346.3" width="9.3" height="21.7" fill="rgba(250,110,95,0.2)" stroke="rgba(242,110,90,0.55)" stroke-width="0.8"/>
<rect x="556.7" y="359.1" width="9.6" height="8.9" fill="rgba(250,110,95,0.2)" stroke="rgba(242,110,90,0.55)" stroke-width="0.8"/>
<rect x="566.3" y="362.1" width="9.7" height="5.9" fill="rgba(250,110,95,0.2)" stroke="rgba(242,110,90,0.55)" stroke-width="0.8"/>
<rect x="576" y="363.3" width="9.3" height="4.7" fill="rgba(250,110,95,0.2)" stroke="rgba(242,110,90,0.55)" stroke-width="0.8"/>
<rect x="585.3" y="366" width="9.3" height="2" fill="rgba(250,110,95,0.2)" stroke="rgba(242,110,90,0.55)" stroke-width="0.8"/>
<rect x="594.6" y="366.8" width="9.3" height="1.2" fill="rgba(250,110,95,0.2)" stroke="rgba(242,110,90,0.55)" stroke-width="0.8"/>
<rect x="603.9" y="366.5" width="9.3" height="1.5" fill="rgba(250,110,95,0.2)" stroke="rgba(242,110,90,0.55)" stroke-width="0.8"/>
<rect x="613.2" y="367.2" width="9.3" height="0.8" fill="rgba(250,110,95,0.2)" stroke="rgba(242,110,90,0.55)" stroke-width="0.8"/>
<rect x="500" y="364.3" width="9.6" height="3.7" fill="rgba(70,110,200,0.17)" stroke="rgba(60,105,195,0.72)" stroke-width="0.8"/>
<rect x="509.6" y="287.4" width="9.5" height="80.6" fill="rgba(70,110,200,0.17)" stroke="rgba(60,105,195,0.72)" stroke-width="0.8"/>
<rect x="519.1" y="239.8" width="9.7" height="128.2" fill="rgba(70,110,200,0.17)" stroke="rgba(60,105,195,0.72)" stroke-width="0.8"/>
<rect x="528.8" y="318.3" width="9.4" height="49.7" fill="rgba(70,110,200,0.17)" stroke="rgba(60,105,195,0.72)" stroke-width="0.8"/>
<rect x="538.2" y="352.1" width="9.2" height="15.9" fill="rgba(70,110,200,0.17)" stroke="rgba(60,105,195,0.72)" stroke-width="0.8"/>
<rect x="547.4" y="360.6" width="9.3" height="7.4" fill="rgba(70,110,200,0.17)" stroke="rgba(60,105,195,0.72)" stroke-width="0.8"/>
<rect x="556.7" y="364.5" width="9.6" height="3.5" fill="rgba(70,110,200,0.17)" stroke="rgba(60,105,195,0.72)" stroke-width="0.8"/>
<rect x="566.3" y="365.3" width="9.7" height="2.7" fill="rgba(70,110,200,0.17)" stroke="rgba(60,105,195,0.72)" stroke-width="0.8"/>
<rect x="576" y="366.5" width="9.3" height="1.5" fill="rgba(70,110,200,0.17)" stroke="rgba(60,105,195,0.72)" stroke-width="0.8"/>
<rect x="585.3" y="367.3" width="9.3" height="0.7" fill="rgba(70,110,200,0.17)" stroke="rgba(60,105,195,0.72)" stroke-width="0.8"/>
<line x1="525.5" y1="207.5" x2="525.5" y2="375.4" stroke="rgba(70,115,205,0.85)" stroke-width="0.9" stroke-dasharray="2.4 2.6" stroke-dashoffset="4.3"/>
<line x1="531.5" y1="207.5" x2="531.5" y2="375.4" stroke="rgba(245,105,85,0.8)" stroke-width="0.9" stroke-dasharray="2.4 2.6" stroke-dashoffset="4.3"/>
<path d="M490.3,367.3 C490.92,367.05 492.88,366.6 494,365.8 C495.12,365 495.92,363.3 497,362.5 C498.08,361.7 499.3,362.08 500.5,361 C501.7,359.92 503.02,358.17 504.2,356 C505.38,353.83 506.47,351.17 507.6,348 C508.73,344.83 509.85,341.57 511,337 C512.15,332.43 513.47,325.93 514.5,320.6 C515.53,315.27 516.37,308.93 517.2,305 C518.03,301.07 518.78,299.07 519.5,297 C520.22,294.93 520.63,293.8 521.5,292.6 C522.37,291.4 523.68,290.03 524.7,289.8 C525.72,289.57 526.62,290.83 527.6,291.2 C528.58,291.57 529.62,291.72 530.6,292 C531.58,292.28 532.68,292.12 533.5,292.9 C534.32,293.68 534.83,294.77 535.5,296.7 C536.17,298.63 536.85,301.88 537.5,304.5 C538.15,307.12 538.83,309.82 539.4,312.4 C539.97,314.98 540.22,316.57 540.9,320 C541.58,323.43 542.53,329.46 543.5,333 C544.47,336.54 545.48,339.18 546.7,341.25 C547.92,343.32 549.42,343.66 550.8,345.4 C552.18,347.14 553.6,349.68 555,351.7 C556.4,353.72 557.82,356.28 559.2,357.5 C560.58,358.72 562.08,358.52 563.3,359 C564.52,359.48 565.27,359.87 566.5,360.4 C567.73,360.93 569.03,361.68 570.7,362.2 C572.37,362.72 574.75,363.18 576.5,363.5 C578.25,363.82 579.83,363.7 581.2,364.1 C582.57,364.5 583.33,365.45 584.7,365.9 C586.07,366.35 587.85,366.52 589.4,366.8 C590.95,367.08 592.07,367.52 594,367.6 C595.93,367.68 598.47,367.47 601,367.3 C603.53,367.13 606.87,366.6 609.2,366.6 C611.53,366.6 613.05,367.07 615,367.3 C616.95,367.53 612.57,367.88 620.9,368 C629.23,368.12 657.65,368 665,368" fill="none" stroke="#f4603f" stroke-width="1.2" stroke-linejoin="round"/>
<path d="M486.3,368 C488.58,367.87 497.02,367.7 500,367.2 C502.98,366.7 503.03,365.87 504.2,365 C505.37,364.13 506.08,363.5 507,362 C507.92,360.5 509.03,359.5 509.7,356 C510.37,352.5 510.55,346.9 511,341 C511.45,335.1 511.93,327.43 512.4,320.6 C512.87,313.77 513.48,305.1 513.8,300 C514.12,294.9 514.13,294.33 514.3,290 C514.47,285.67 514.58,280.33 514.8,274 C515.02,267.67 515.25,259.33 515.6,252 C515.95,244.67 516.47,235.33 516.9,230 C517.33,224.67 517.68,222.48 518.2,220 C518.72,217.52 519.38,215.27 520,215.1 C520.62,214.93 521.38,216.52 521.9,219 C522.42,221.48 522.42,224.48 523.1,230 C523.78,235.52 525.3,244.77 526,252.1 C526.7,259.43 526.88,267.68 527.3,274 C527.72,280.32 528.05,285.17 528.5,290 C528.95,294.83 529.55,299.33 530,303 C530.45,306.67 530.82,309.17 531.2,312 C531.58,314.83 531.8,316.87 532.3,320 C532.8,323.13 533.54,327.26 534.2,330.8 C534.86,334.34 535.38,338.3 536.25,341.25 C537.12,344.2 538.01,346.42 539.4,348.5 C540.79,350.58 542.7,352.18 544.6,353.75 C546.5,355.32 548.72,356.69 550.8,357.9 C552.88,359.11 555.02,360.13 557.1,361 C559.18,361.87 561.15,362.57 563.3,363.1 C565.45,363.63 567.98,363.83 570,364.2 C572.02,364.57 573.73,364.83 575.4,365.3 C577.07,365.77 578.07,366.87 580,367 C581.93,367.13 584.67,365.93 587,366.1 C589.33,366.27 581,367.68 594,368 C607,368.32 653.17,368 665,368" fill="none" stroke="#3b6fc5" stroke-width="1.2" stroke-linejoin="round"/>
<rect x="477.6" y="207.5" width="196.6" height="167.9" fill="none" stroke="#ababab" stroke-width="1"/>
<line x1="475.8" y1="368" x2="477.6" y2="368" stroke="#8a8a8a" stroke-width="0.7"/>
<text x="474.4" y="369.9" font-size="5.6" text-anchor="end" font-weight="normal" fill="#555">0.0</text>
<line x1="475.8" y1="329.6" x2="477.6" y2="329.6" stroke="#8a8a8a" stroke-width="0.7"/>
<text x="474.4" y="331.5" font-size="5.6" text-anchor="end" font-weight="normal" fill="#555">0.5</text>
<line x1="475.8" y1="291.2" x2="477.6" y2="291.2" stroke="#8a8a8a" stroke-width="0.7"/>
<text x="474.4" y="293.1" font-size="5.6" text-anchor="end" font-weight="normal" fill="#555">1.0</text>
<line x1="475.8" y1="252.8" x2="477.6" y2="252.8" stroke="#8a8a8a" stroke-width="0.7"/>
<text x="474.4" y="254.7" font-size="5.6" text-anchor="end" font-weight="normal" fill="#555">1.5</text>
<line x1="475.8" y1="214.4" x2="477.6" y2="214.4" stroke="#8a8a8a" stroke-width="0.7"/>
<text x="474.4" y="216.3" font-size="5.6" text-anchor="end" font-weight="normal" fill="#555">2.0</text>
<line x1="486" y1="375.4" x2="486" y2="377.2" stroke="#8a8a8a" stroke-width="0.7"/>
<text x="486" y="382.5" font-size="5.5" text-anchor="middle" font-weight="normal" fill="#555">0.0</text>
<line x1="503.94" y1="375.4" x2="503.94" y2="377.2" stroke="#8a8a8a" stroke-width="0.7"/>
<text x="503.94" y="382.5" font-size="5.5" text-anchor="middle" font-weight="normal" fill="#555">0.5</text>
<line x1="521.88" y1="375.4" x2="521.88" y2="377.2" stroke="#8a8a8a" stroke-width="0.7"/>
<text x="521.88" y="382.5" font-size="5.5" text-anchor="middle" font-weight="normal" fill="#555">1.0</text>
<line x1="539.82" y1="375.4" x2="539.82" y2="377.2" stroke="#8a8a8a" stroke-width="0.7"/>
<text x="539.82" y="382.5" font-size="5.5" text-anchor="middle" font-weight="normal" fill="#555">1.5</text>
<line x1="557.76" y1="375.4" x2="557.76" y2="377.2" stroke="#8a8a8a" stroke-width="0.7"/>
<text x="557.76" y="382.5" font-size="5.5" text-anchor="middle" font-weight="normal" fill="#555">2.0</text>
<line x1="575.7" y1="375.4" x2="575.7" y2="377.2" stroke="#8a8a8a" stroke-width="0.7"/>
<text x="575.7" y="382.5" font-size="5.5" text-anchor="middle" font-weight="normal" fill="#555">2.5</text>
<line x1="593.64" y1="375.4" x2="593.64" y2="377.2" stroke="#8a8a8a" stroke-width="0.7"/>
<text x="593.64" y="382.5" font-size="5.5" text-anchor="middle" font-weight="normal" fill="#555">3.0</text>
<line x1="611.58" y1="375.4" x2="611.58" y2="377.2" stroke="#8a8a8a" stroke-width="0.7"/>
<text x="611.58" y="382.5" font-size="5.5" text-anchor="middle" font-weight="normal" fill="#555">3.5</text>
<line x1="629.52" y1="375.4" x2="629.52" y2="377.2" stroke="#8a8a8a" stroke-width="0.7"/>
<text x="629.52" y="382.5" font-size="5.5" text-anchor="middle" font-weight="normal" fill="#555">4.0</text>
<line x1="647.46" y1="375.4" x2="647.46" y2="377.2" stroke="#8a8a8a" stroke-width="0.7"/>
<text x="647.46" y="382.5" font-size="5.5" text-anchor="middle" font-weight="normal" fill="#555">4.5</text>
<line x1="665.4" y1="375.4" x2="665.4" y2="377.2" stroke="#8a8a8a" stroke-width="0.7"/>
<text x="665.4" y="382.5" font-size="5.5" text-anchor="middle" font-weight="normal" fill="#555">5.0</text>
<text x="463" y="291.5" font-size="6.7" text-anchor="middle" font-weight="bold" fill="#111" stroke="#111" stroke-width="0.2" textLength="21.6" lengthAdjust="spacingAndGlyphs" transform="rotate(-90 463 291.5)">density</text>
<text x="567.4" y="392.4" font-size="8" text-anchor="start" font-weight="bold" fill="#111" stroke="#111" stroke-width="0.2" textLength="17" lengthAdjust="spacingAndGlyphs">SHR</text>
<rect x="615.5" y="227.8" width="10.7" height="9.8" fill="#f75f3f" stroke="none" stroke-width="1"/>
<rect x="615.5" y="237.6" width="10.7" height="9.8" fill="#3a70c9" stroke="none" stroke-width="1"/>
<text x="631.6" y="236.2" font-size="7" text-anchor="start" font-weight="normal" fill="#1a1a1a" stroke="#1a1a1a" stroke-width="0.12" textLength="11.2" lengthAdjust="spacingAndGlyphs">DM</text>
<text x="631.6" y="245.9" font-size="7" text-anchor="start" font-weight="normal" fill="#1a1a1a" stroke="#1a1a1a" stroke-width="0.12" textLength="22" lengthAdjust="spacingAndGlyphs">No DM</text>
<line x1="0.5" y1="0" x2="0.5" y2="405" stroke="#a0aab2" stroke-width="1"/>
<line x1="0" y1="0.5" x2="684" y2="0.5" stroke="#dbdfe3" stroke-width="1"/>
<line x1="683.5" y1="0" x2="683.5" y2="405" stroke="#b0b7bd" stroke-width="1"/>
<line x1="0" y1="404.5" x2="684" y2="404.5" stroke="#b9bfc4" stroke-width="1"/>
</svg></body></html>
